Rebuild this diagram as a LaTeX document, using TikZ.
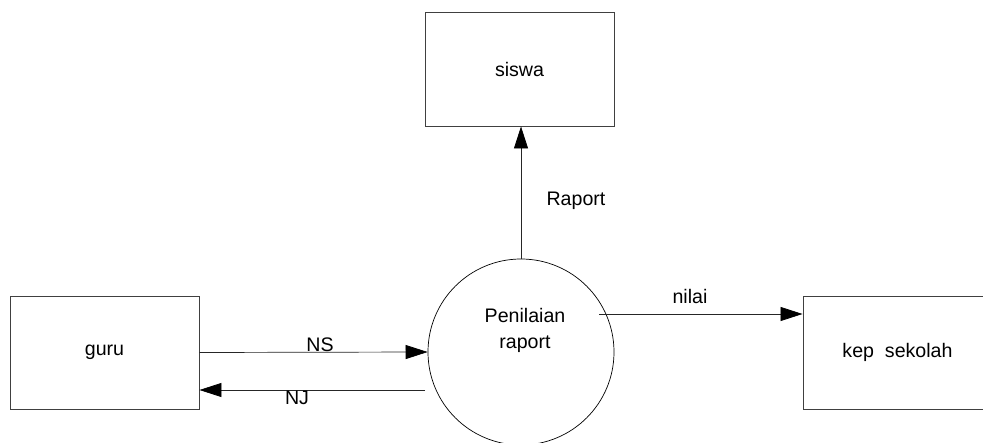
\documentclass[tikz,border=0pt]{standalone}
\usepackage{fontspec}
\setmainfont{Liberation Sans}
\usetikzlibrary{arrows.meta}
\begin{document}
\begin{tikzpicture}[x=1pt,y=-1pt,
  every node/.style={font=\fontsize{19.6}{26}\selectfont},
  entity/.style={draw=black!75, line width=0.9pt, minimum width=189pt, inner sep=0pt, align=center},
  proccircle/.style={draw=black, line width=0.7pt, circle, minimum size=186pt, inner sep=0pt},
  flow/.style={draw=black!85, line width=0.7pt, -{Triangle[length=22pt,width=14pt,fill=black,color=black]}},
  lbl/.style={inner sep=0pt, anchor=center}]
\clip (0,0) rectangle (983,443);
\fill[white] (0,0) rectangle (983,443);

\node[entity, minimum height=113pt] (guru) at (104.5,352.5) {guru};
\node[entity, minimum height=114pt] (siswa) at (519.5,69) {siswa};
\node[entity, minimum height=113pt] (kep) at (897.5,352.5) {kep~~sekolah};
\node[proccircle] (proc) at (521,352) {};
\node[lbl, align=center] (proctext) at (525,330) {Penilaian\\raport};

\coordinate (nilaistart) at (599,314);
\coordinate (njstart) at (425,390);

\draw[flow] (guru.east) -- (proc.west);
\draw[flow] (njstart) -- (njstart -| guru.east);
\draw[flow] (proc.north) -- (proc.north |- siswa.south);
\draw[flow] (nilaistart) -- (nilaistart -| kep.west);

\node[lbl] (ns) at (320,345) {NS};
\node[lbl] (nj) at (297,398) {NJ};
\node[lbl] (raport) at (576,201) {Raport};
\node[lbl] (nilai) at (690,296) {nilai};
\end{tikzpicture}
\end{document}
